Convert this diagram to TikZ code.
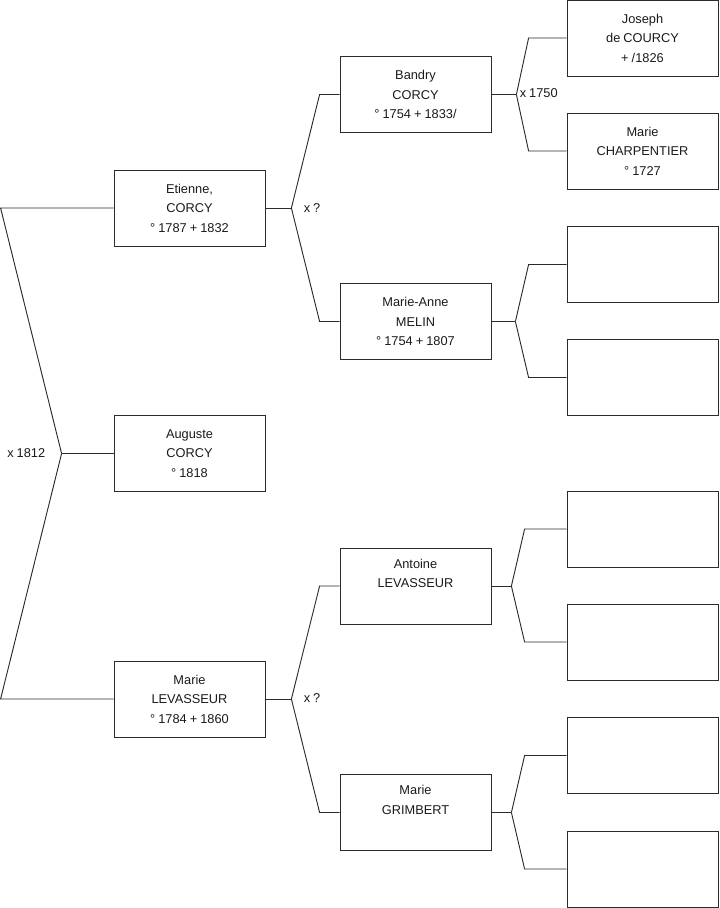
\documentclass[tikz,border=0pt]{standalone}
\usepackage{fontspec}
\setmainfont{Liberation Sans}[WordSpace=0.85]
\usepackage{tikz}
\usetikzlibrary{positioning}
\definecolor{treeline}{HTML}{2B2B2B}
\definecolor{treetext}{HTML}{1A1A1A}

\begin{document}
\begin{tikzpicture}[
        x=0.75pt, y=-0.75pt,
        person/.style={
            draw=treeline,
            line width=0.6pt,
            minimum width=113.25pt,
            minimum height=57pt,
            align=center,
            text=treetext,
            font=\fontsize{9.6pt}{14.6pt}\selectfont
        },
        link/.style={treeline, line width=0.7pt},
        union/.style={anchor=west, inner sep=0pt, text=treetext,
            font=\fontsize{9.6pt}{10pt}\selectfont}
    ]
        \useasboundingbox (0,0) rectangle (719,908);

        % first column
        \node[person] (etienne) at (189.5,208) {Etienne,\\CORCY\\° 1787 + 1832};
        \node[person] (auguste) at (189.5,453.5) {Auguste\\CORCY\\° 1818};
        \node[person] (marie) at (189.5,699) {Marie\\LEVASSEUR\\° 1784 + 1860};

        % second column
        \node[person] (bandry) at (415.5,94.5) {Bandry\\CORCY\\° 1754 + 1833/};
        \node[person] (marieanne) at (415.5,321.5) {Marie-Anne\\MELIN\\° 1754 + 1807};
        \node[person] (antoine) at (415.5,586) {Antoine\\LEVASSEUR\\\strut};
        \node[person] (grimbert) at (415.5,812.5) {Marie\\GRIMBERT\\\strut};

        % third column
        \node[person] (joseph) at (642.5,38) {Joseph\\de COURCY\\+ /1826};
        \node[person] (charpentier) at (642.5,151) {Marie\\CHARPENTIER\\° 1727};
        \node[person] (melinfather) at (642.5,264.5) {};
        \node[person] (melinmother) at (642.5,377.5) {};
        \node[person] (antoinefather) at (642.5,529) {};
        \node[person] (antoinemother) at (642.5,642) {};
        \node[person] (grimbertfather) at (642.5,755.5) {};
        \node[person] (grimbertmother) at (642.5,869) {};

        % fork points
        \coordinate (augustefork) at ([xshift=-39pt]auguste.west);
        \coordinate (etiennefork) at ([xshift=19.5pt]etienne.east);
        \coordinate (mariefork) at ([xshift=19.5pt]marie.east);
        \coordinate (bandryfork) at ([xshift=18.75pt]bandry.east);
        \coordinate (marieannefork) at ([xshift=18pt]marieanne.east);
        \coordinate (antoinefork) at ([xshift=15pt]antoine.east);
        \coordinate (grimbertfork) at ([xshift=15pt]grimbert.east);

        % parents of Auguste
        \draw[link] (auguste.west) -- (augustefork);
        \draw[link] (augustefork) -- ([xshift=-84.75pt]etienne.west) -- (etienne.west);
        \draw[link] (augustefork) -- ([xshift=-84.75pt]marie.west) -- (marie.west);
        \node[union] (augusteunion) at (7,453) {x 1812};

        % parents of Etienne
        \draw[link] (etienne.east) -- (etiennefork);
        \draw[link] (etiennefork) -- ([xshift=-15pt]bandry.west) -- (bandry.west);
        \draw[link] (etiennefork) -- ([xshift=-15pt]marieanne.west) -- (marieanne.west);
        \node[union] (etienneunion) at (303.5,208) {x ?};

        % parents of Marie
        \draw[link] (marie.east) -- (mariefork);
        \draw[link] (mariefork) -- ([xshift=-15pt]antoine.west) -- (antoine.west);
        \draw[link] (mariefork) -- ([xshift=-15pt]grimbert.west) -- (grimbert.west);
        \node[union] (marieunion) at (303.5,698) {x ?};

        % parents of Bandry
        \draw[link] (bandry.east) -- (bandryfork);
        \draw[link] (bandryfork) -- ([xshift=-28.5pt]joseph.west) -- (joseph.west);
        \draw[link] (bandryfork) -- ([xshift=-28.5pt]charpentier.west) -- (charpentier.west);
        \node[union] (bandryunion) at (519.5,93) {x 1750};

        % parents of Marie-Anne
        \draw[link] (marieanne.east) -- (marieannefork);
        \draw[link] (marieannefork) -- ([xshift=-28.5pt]melinfather.west) -- (melinfather.west);
        \draw[link] (marieannefork) -- ([xshift=-28.5pt]melinmother.west) -- (melinmother.west);

        % parents of Antoine
        \draw[link] (antoine.east) -- (antoinefork);
        \draw[link] (antoinefork) -- ([xshift=-31.5pt]antoinefather.west) -- (antoinefather.west);
        \draw[link] (antoinefork) -- ([xshift=-31.5pt]antoinemother.west) -- (antoinemother.west);

        % parents of Marie Grimbert
        \draw[link] (grimbert.east) -- (grimbertfork);
        \draw[link] (grimbertfork) -- ([xshift=-31.5pt]grimbertfather.west) -- (grimbertfather.west);
        \draw[link] (grimbertfork) -- ([xshift=-31.5pt]grimbertmother.west) -- (grimbertmother.west);
    \end{tikzpicture}
\end{document}
